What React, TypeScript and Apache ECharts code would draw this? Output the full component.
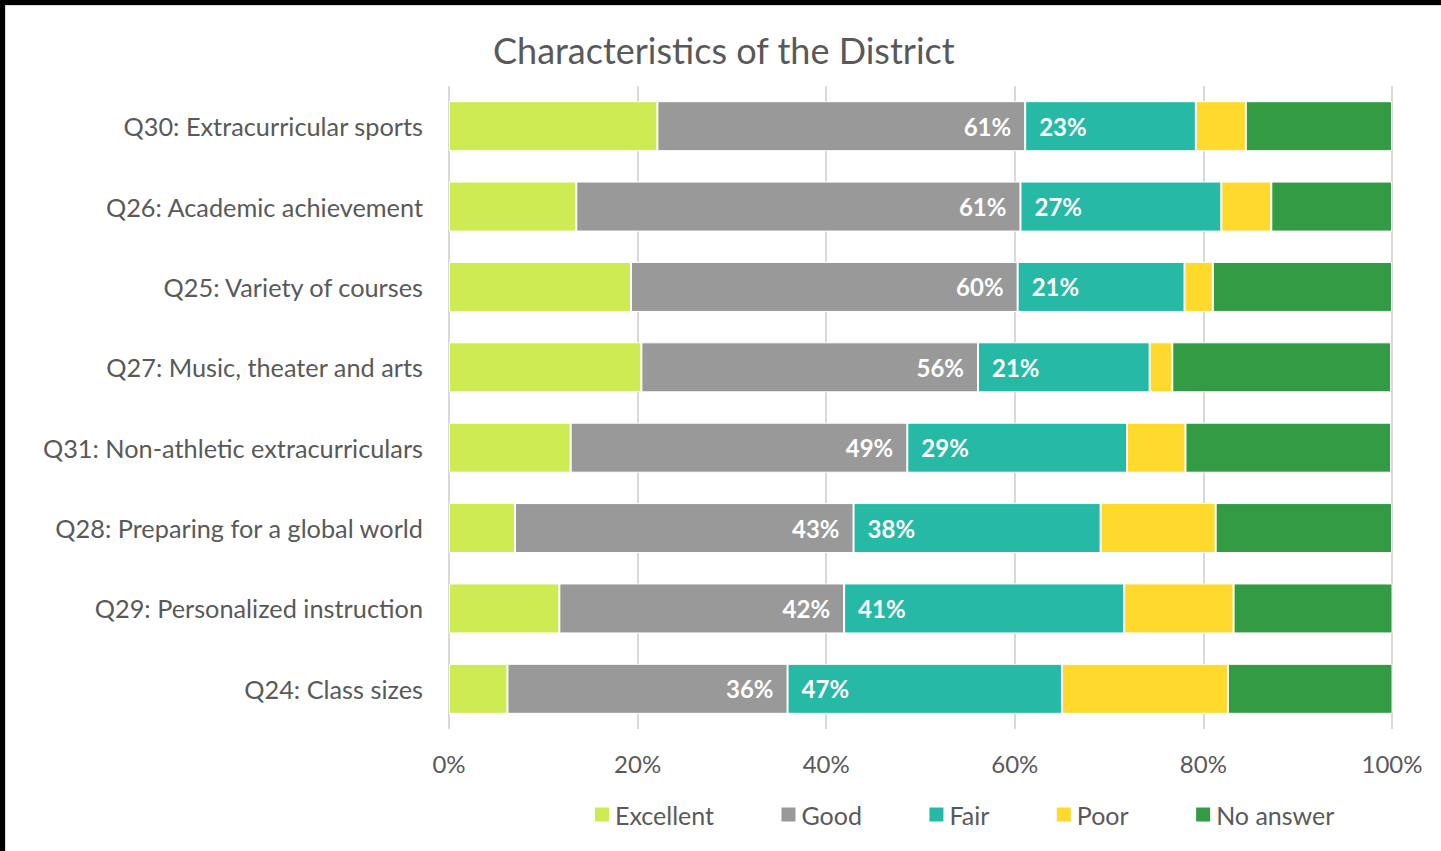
import React, { useEffect, useRef } from "react";
import * as echarts from "echarts";

const categories = [
  "Q30: Extracurricular sports",
  "Q26: Academic achievement",
  "Q25: Variety of courses",
  "Q27: Music, theater and arts",
  "Q31: Non-athletic extracurriculars",
  "Q28: Preparing for a global world",
  "Q29: Personalized instruction",
  "Q24: Class sizes",
];
const seriesNames = ["Excellent", "Good", "Fair", "Poor", "No answer"];
const excellent = [22.1, 13.5, 19.3, 20.4, 12.9, 7.0, 11.7, 6.2];
const good = [39.0, 47.1, 41.0, 35.7, 35.7, 35.9, 30.2, 29.7];
const fair = [18.1, 21.3, 17.7, 18.2, 23.3, 26.2, 29.7, 29.1];
const poor = [5.3, 5.3, 3.0, 2.4, 6.2, 12.2, 11.6, 17.6];
const noAnswer = [15.5, 12.8, 19.0, 23.2, 21.8, 18.7, 16.9, 17.5];
const goodLabels = ["61%", "61%", "60%", "56%", "49%", "43%", "42%", "36%"];
const fairLabels = ["23%", "27%", "21%", "21%", "29%", "38%", "41%", "47%"];
const colors = ["#cdeb52", "#999999", "#26b9a6", "#ffd92b", "#339b43"];

const FONT = "Lato, 'Noto Sans', sans-serif";
const TEXT = "#595959";

export default function App() {
  const ref = useRef<HTMLDivElement>(null);
  useEffect(() => {
    document.body.style.margin = "0";
    const chart = echarts.init(ref.current!, null, { renderer: "svg" });
    const all = [excellent, good, fair, poor, noAnswer];
    const series = all.map((data, i) => {
      const s: any = {
        name: seriesNames[i],
        type: "bar",
        stack: "total",
        barWidth: 50,
        data,
        itemStyle: { color: colors[i], borderColor: "#ffffff", borderWidth: 1 },
        emphasis: { disabled: true },
      };
      if (i === 1) {
        s.label = {
          show: true,
          position: "insideRight",
          distance: 14,
          color: "#ffffff",
          fontWeight: "bold",
          fontSize: 24,
          fontFamily: FONT,
          formatter: (p: any) => goodLabels[p.dataIndex],
        };
      }
      if (i === 2) {
        s.label = {
          show: true,
          position: "insideLeft",
          distance: 14,
          color: "#ffffff",
          fontWeight: "bold",
          fontSize: 24,
          fontFamily: FONT,
          formatter: (p: any) => fairLabels[p.dataIndex],
        };
      }
      return s;
    });
    chart.setOption({
      animation: false,
      backgroundColor: "#ffffff",
      title: {
        text: "Characteristics of the District",
        left: 488,
        top: 27,
        textStyle: { color: TEXT, fontSize: 36, fontWeight: "normal", fontFamily: FONT },
      },
      legend: {
        data: seriesNames,
        left: 588,
        top: 797,
        itemWidth: 16,
        itemHeight: 16,
        itemGap: 65.5,
        icon: "rect",
        textStyle: { color: TEXT, fontSize: 25, fontFamily: FONT },
      },
      grid: { left: 449, right: 49, top: 86, bottom: 122, containLabel: false },
      xAxis: {
        type: "value",
        min: 0,
        max: 100,
        interval: 20,
        axisLine: { show: false },
        axisTick: { show: false },
        splitLine: { show: true, lineStyle: { color: "#d9d9d9", width: 2 } },
        axisLabel: {
          formatter: "{value}%",
          color: TEXT,
          fontSize: 24,
          fontFamily: FONT,
          margin: 22,
        },
      },
      yAxis: {
        type: "category",
        data: categories,
        inverse: true,
        axisLine: { show: false },
        axisTick: { show: false },
        axisLabel: { color: TEXT, fontSize: 25.3, fontFamily: FONT, margin: 26 },
      },
      graphic: [
        { type: "rect", shape: { x: 0, y: 0, width: 1441, height: 5 }, style: { fill: "#000000" } },
        { type: "rect", shape: { x: 0, y: 0, width: 5, height: 851 }, style: { fill: "#000000" } },
        { type: "rect", shape: { x: 5, y: 5, width: 1436, height: 1 }, style: { fill: "#d9d9d9" } },
        { type: "rect", shape: { x: 5, y: 5, width: 1, height: 846 }, style: { fill: "#d9d9d9" } },
      ],
      series,
    });
    return () => chart.dispose();
  }, []);
  return <div ref={ref} style={{ width: 1441, height: 851 }} />;
}
